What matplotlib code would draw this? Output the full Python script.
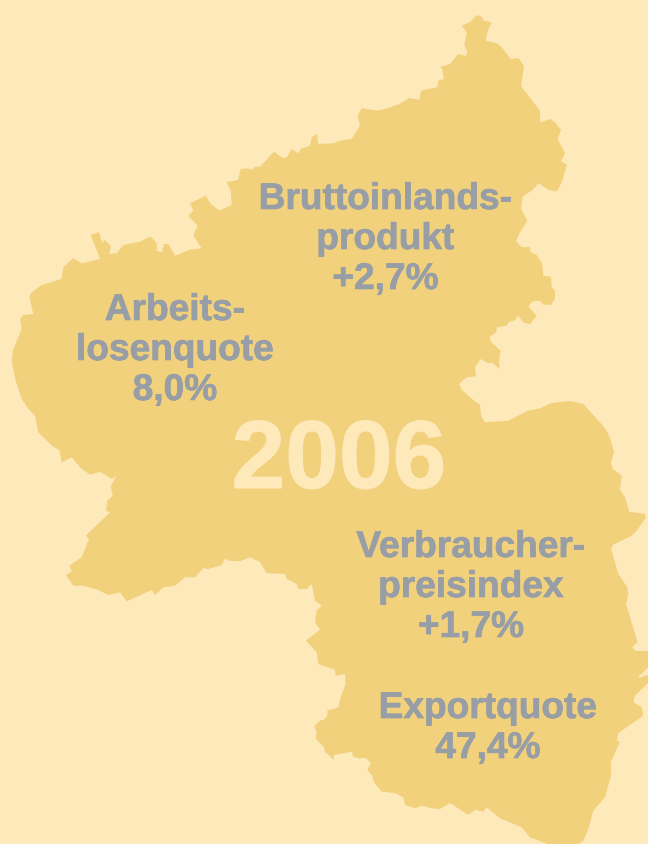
import matplotlib
matplotlib.use("Agg")
import matplotlib.pyplot as plt
import matplotlib.patheffects as pe

# Map outline of the region (image coordinates)
outline = [
(476.7,16),(481.7,17.7),(484,21.7),(492,23.3),(488.3,30),(485.7,41.7),(496.7,44.3),(501.7,48.3),(510.7,60),(518.3,59),
(524,66.7),(521,87.3),(540,111.7),(540.3,123.3),(550,120),(555,123.3),(561,131),(557.7,140),(565,154.3),(561,162.3),
(567,165.7),(561.7,183.3),(556.7,192.7),(548.3,190.7),(538.7,184.3),(531.7,191.7),(522.7,197.3),(521,210),(527.3,221.7),
(520,233.3),(516,242),(521.7,248),(530,248),(530.7,253.3),(536.7,256),(542.3,265),(543.3,276.7),(551,277.7),(551.7,288.3),
(555,291.7),(555,300),(551,305.7),(543.3,305.7),(540,301.7),(532.7,302.3),(528.3,307.3),(536.7,316.7),(530,325.3),
(523.3,323.3),(518.3,316.7),(515,321),(508.3,323.3),(506.7,326.7),(497.3,328.3),(496,333.3),(490,337.7),(490.7,342.7),
(500.7,351.7),(499,361.7),(499.7,370),(491.7,363.3),(488.3,364.3),(480.7,360),(475,368.3),(476,377.3),(466.7,378.3),
(459,385),(461.7,390.7),(473.3,401),(480,405.7),(481,416.7),(485,423.3),(508.3,421.7),(528.3,411.7),(540,409.3),
(551.7,404),(570,402),(583.3,405),(596,419),(605,429),(608.3,435),(611.7,445),(614,453.3),(611,463.3),(612.7,470),
(621.7,476.7),(620,490.7),(625,498.3),(629.3,512.7),(645,515),(646,518.3),(636.7,531.7),(631.7,536.7),(612.7,546),
(611.3,551),(618.3,575),(627.3,588.3),(628.3,595),(626,605),(637.5,643),(632.3,648.3),(635,651.7),(650,652.3),(650,667),
(638.3,677.3),(639.3,679),(650,675),(650,682),(635,696.7),(633.3,703.3),(641.7,708.3),(643.3,716.7),(618.3,734),
(616.7,741.7),(620,742.7),(610.7,763.3),(611,776.7),(605,798.3),(593.3,811.7),(588.3,830),(583.3,841.7),(576.7,847),
(553,847),(530,838.3),(521.7,828.3),(500,819.3),(486.7,808.3),(483.3,812.7),(475,810.7),(468.3,816),(450,804),(440,810),
(431.7,809.3),(421.7,806.7),(415,809.3),(405,806),(403.3,798.3),(395,794),(381.7,792.7),(374,783.3),(372.3,776.7),
(367.3,771),(371,764),(365.7,759),(358.3,759.3),(352.7,757.3),(352.3,752.7),(334,756),(333.3,760.7),(325,752.7),
(324,748.3),(315.7,740),(316.7,733.3),(314.3,727.3),(320.7,720.7),(322.7,721.7),(327.3,716.7),(327.3,711.7),(338.3,708.3),
(340.7,698.3),(345.7,685),(345,675),(335.7,676.7),(335,670.7),(318.3,665),(316.7,653.3),(306,641.7),(320,630.7),
(315,623.3),(316.7,611.7),(321.7,606.7),(315,601.7),(311.7,585),(306.7,590),(298.3,590),(296.7,585),(286.7,580),(285,575),
(266.7,574),(260,563),(250,558.3),(240,562.3),(228.3,561.7),(225,559.3),(221.7,566),(208.3,570),(203.3,569),(195,578.3),
(185,578.3),(175,586.7),(163.3,588.3),(155,596),(151.7,591),(133.3,599.3),(126.7,602.3),(120,593.3),(108.3,596),
(98.3,591),(83.3,586.7),(73.3,586.7),(65.7,576),(71.7,572.7),(69.3,566.7),(81.7,558.3),(89,540),(85.7,536.7),(107.3,516),
(110,513.3),(106,511.7),(107.3,501.7),(112.7,496.7),(110.7,487.7),(116,477.3),(111.7,480),(100,472.7),(90,475.7),
(81.7,470),(71.7,458.3),(61.7,463.3),(59.3,451),(51.7,446.7),(38.3,433.3),(35,416.7),(28.3,410),(21.7,400),(15.7,381.7),
(11.7,363.3),(12.7,351.7),(21.7,330),(20,320),(23.3,316),(33.3,315),(29.3,297.3),(31.7,293.3),(41.7,286),(61.7,280),
(63.3,268.3),(73.3,259),(81.7,264.3),(100,260),(90.7,235.7),(99,233.3),(102.3,244),(105,241),(111,247.3),(109,255),
(116.7,254.3),(123.3,246),(140,242.7),(150,237.3),(156.7,244),(156.7,251.7),(161.7,253.3),(164.3,245),(168.3,245),
(175,256.7),(190,250.7),(201.7,249.3),(193.3,236.7),(197.7,226.7),(188.3,216.7),(193.3,211.7),(190,204.3),(205.7,196.7),
(210.7,205),(219.3,211.7),(231.7,206),(230.7,191.7),(226.7,183.3),(238.3,180.7),(240.7,170),(247.3,169.3),(251.7,170.7),
(255,167.7),(260,167.7),(274,152.7),(282.7,159),(286.7,158.3),(291.7,150),(298.3,154.3),(300.7,150),(310,146.7),
(311.7,138.3),(316.7,135),(318.3,145),(333.3,144.3),(340,141.7),(351.7,140),(360,126.7),(357.7,116.7),(361.7,109.3),
(378.3,111.7),(390,108.3),(399.3,105),(409.3,99),(419.3,100.7),(421,91.7),(437.3,88.3),(438.3,81.7),(444,80),(442.3,70),
(440,68.3),(450,65),(458.3,55),(466,56.7),(467.3,53.3),(464.3,46.7),(466.7,33.3),(461.7,26.7),(470.7,22.7),
]
year = "2006"
labels = [
    ["Bruttoinlands-", "produkt", "+2,7%"],
    ["Arbeits-", "losenquote", "8,0%"],
    ["Verbraucher-", "preisindex", "+1,7%"],
    ["Exportquote", "47,4%"],
]

BG = "#FDE9BA"
LAND = "#F2D17C"
GREY = "#979EA6"
FONT = "Liberation Sans"

fig = plt.figure(figsize=(6.48, 8.45), dpi=100, facecolor=BG)
ax = fig.add_axes([0, 0, 1, 1])
ax.set_xlim(0, 648)
ax.set_ylim(845, 0)
ax.axis("off")
ax.fill([p[0] for p in outline], [p[1] for p in outline], color=LAND, lw=0)

anchors = [(385.5, 196.5), (175, 307.5), (471, 544.5), (488, 705.5)]
for lines, (cx, cy) in zip(labels, anchors):
    for i, line in enumerate(lines):
        ax.text(cx, cy + i * 40, line, ha="center", va="center_baseline", family=FONT,
                weight="bold", fontsize=26.7, color=GREY,
                path_effects=[pe.withStroke(linewidth=0.5, foreground=GREY)])
ax.text(339, 454, year, ha="center", va="center_baseline", family=FONT, weight="bold",
        fontsize=69.5, color=BG,
        path_effects=[pe.withStroke(linewidth=0.8, foreground=BG)])

fig.savefig("out.png", dpi=100, facecolor=BG)
